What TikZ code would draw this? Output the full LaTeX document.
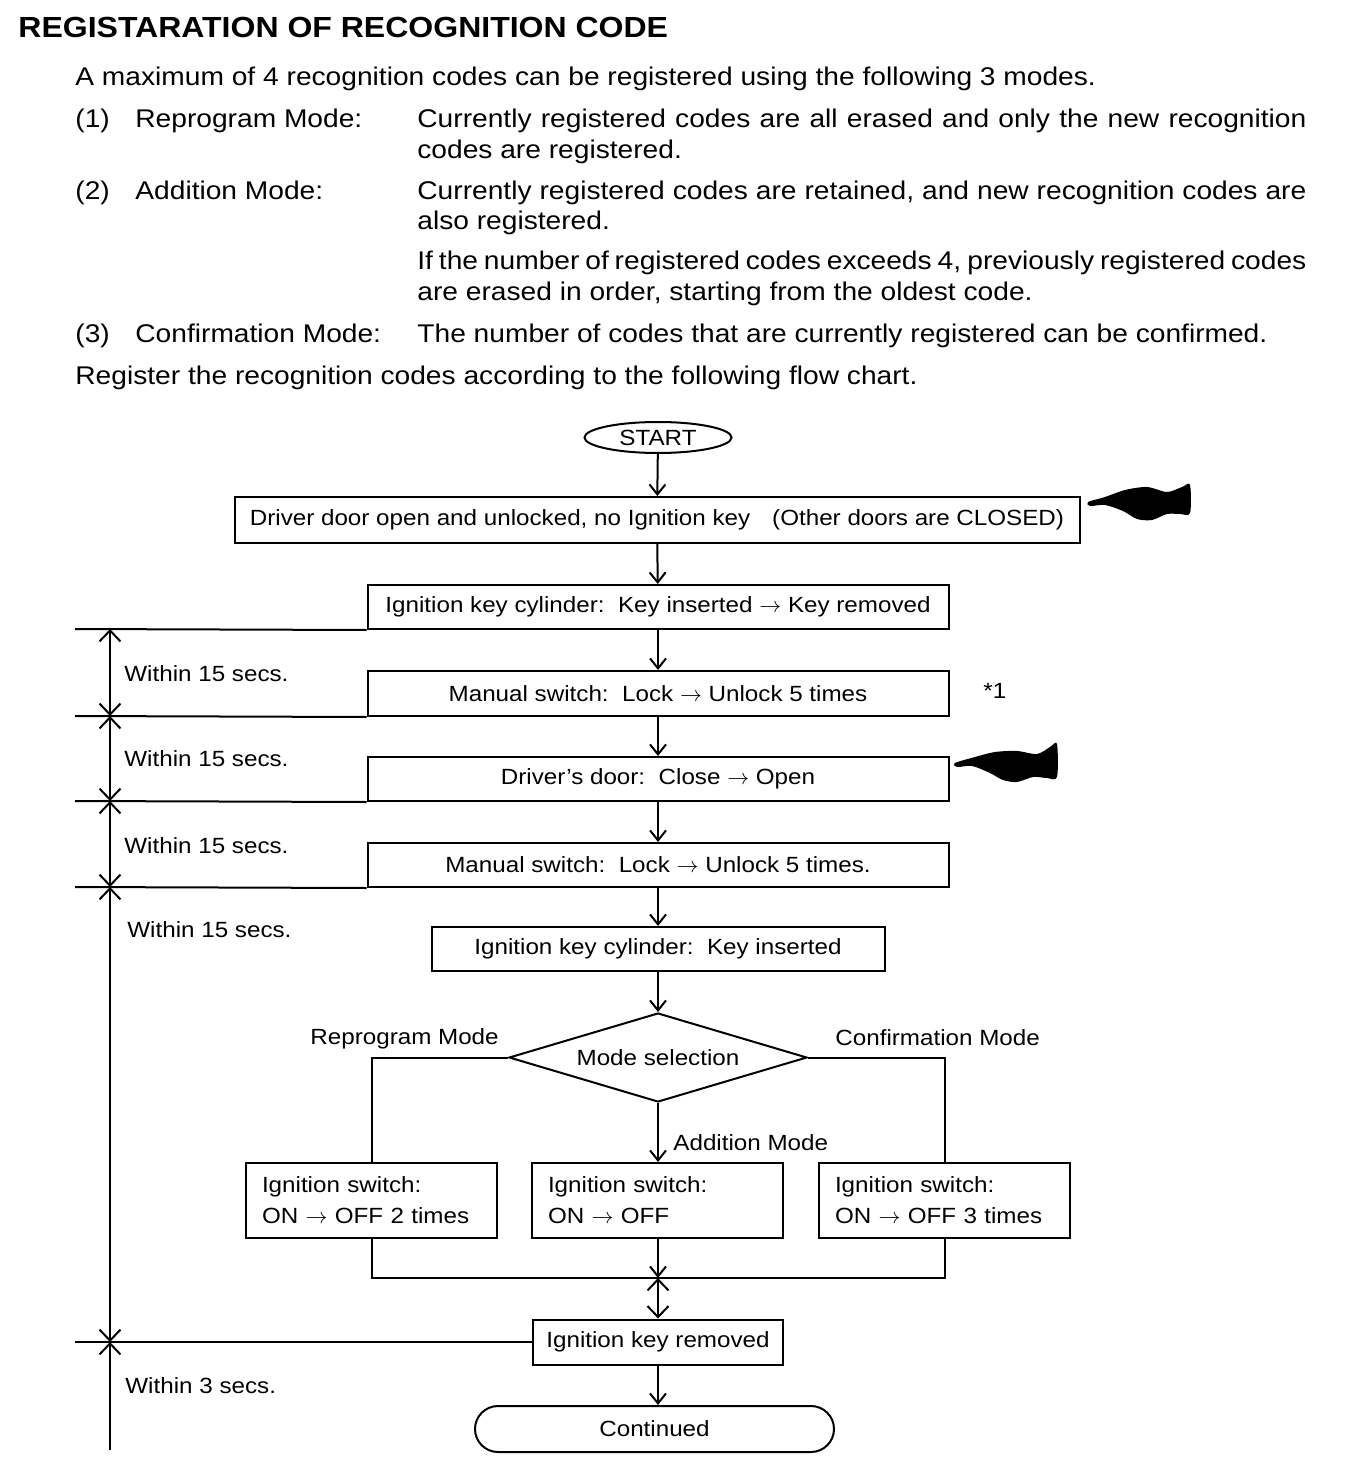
\documentclass[tikz,border=0pt]{standalone}
\usepackage{fontspec}
\setmainfont{Liberation Sans}[FakeStretch=1.1]
\usetikzlibrary{arrows.meta,shapes.geometric}
\begin{document}
\begin{tikzpicture}[x=0.5pt,y=-0.5pt,
  every node/.style={inner sep=0pt},
  bt/.style={anchor=base west, font=\fontsize{12.8}{15}\selectfont},
  ft/.style={font=\fontsize{11}{15.5}\selectfont},
  lbl/.style={anchor=base west, ft},
  ln/.style={line width=1pt},
  box/.style={draw, ln, ft},
  flow/.style={ln, -{Straight Barb[length=5pt,width=8pt]}},
  tick/.style={ln, {Straight Barb[length=5.5pt,width=10.5pt]}-{Straight Barb[length=5.5pt,width=10.5pt]}},
  tickstart/.style={ln, {Straight Barb[length=5.5pt,width=10.5pt]}-},
  twoline/.style={box, align=left, text width=109.5pt, inner xsep=8pt, minimum height=37.5pt}]
\useasboundingbox (0,0) rectangle (1344,1470);

% ---- header text ----
\node[anchor=base west, font=\bfseries\fontsize{14.55}{18}\selectfont] (title) at (18,38) {REGISTARATION OF RECOGNITION CODE};
\node[bt] (p0) at (75,86) {A maximum of 4 recognition codes can be registered using the following 3 modes.};
\node[bt] (n1) at (75,128) {(1)};
\node[bt] (m1) at (135,128) {Reprogram Mode:};
\node[bt] (d1a) at (417,128) {\makebox[444.5pt][s]{Currently registered codes are all erased and only the new recognition}};
\node[bt] (d1b) at (417,159) {codes are registered.};
\node[bt] (n2) at (75,200) {(2)};
\node[bt] (m2) at (135,200) {Addition Mode:};
\node[bt] (d2a) at (417,200) {\makebox[444.5pt][s]{Currently registered codes are retained, and new recognition codes are}};
\node[bt] (d2b) at (417,230) {also registered.};
\node[bt] (d2c) at (417,270) {\makebox[444.5pt][s]{If the number of registered codes exceeds 4, previously registered codes}};
\node[bt] (d2d) at (417,301) {are erased in order, starting from the oldest code.};
\node[bt] (n3) at (75,343) {(3)};
\node[bt] (m3) at (135,343) {Confirmation Mode:};
\node[bt] (d3) at (417,343) {The number of codes that are currently registered can be confirmed.};
\node[bt] (p4) at (75,385) {Register the recognition codes according to the following flow chart.};

% ---- flow chart nodes ----
\node[draw, ln, ft, ellipse, minimum width=73.5pt, minimum height=15.5pt] (start) at (658,437.5) {START};
\node[box, minimum width=422.5pt, minimum height=23pt] (b1) at (657,520) {Driver door open and unlocked, no Ignition key\quad(Other doors are CLOSED)};
\node[box, minimum width=290.5pt, minimum height=22pt] (b2) at (658,607) {Ignition key cylinder:\ \ Key inserted $\rightarrow$ Key removed};
\node[box, minimum width=290.5pt, minimum height=22.5pt] (b3) at (658,693.5) {Manual switch:\ \ Lock $\rightarrow$ Unlock 5 times};
\node[box, minimum width=290.5pt, minimum height=22pt] (b4) at (658,779) {Driver's door:\ \ Close $\rightarrow$ Open};
\node[box, minimum width=290.5pt, minimum height=22pt] (b5) at (658,865) {Manual switch:\ \ Lock $\rightarrow$ Unlock 5 times.};
\node[box, minimum width=226.5pt, minimum height=22pt] (b6) at (658,949) {Ignition key cylinder:\ \ Key inserted};
\node[draw, ln, ft, diamond, aspect=3.35, minimum width=149pt, minimum height=44.5pt] (dia) at (658,1057.5) {Mode selection};
\node[twoline] (b7) at (371.5,1200.5) {Ignition switch:\\ON $\rightarrow$ OFF 2 times};
\node[twoline] (b8) at (657.5,1200.5) {Ignition switch:\\ON $\rightarrow$ OFF};
\node[twoline] (b9) at (944.5,1200.5) {Ignition switch:\\ON $\rightarrow$ OFF 3 times};
\node[box, minimum width=125pt, minimum height=22.5pt] (b10) at (658,1342) {Ignition key removed};
\node[draw, ln, ft, rounded corners=11.5pt, minimum width=179.5pt, minimum height=23pt] (cont) at (654.5,1429) {Continued};

% ---- labels ----
\node[lbl] (l1) at (124,681) {Within 15 secs.};
\node[lbl] (l2) at (124,766) {Within 15 secs.};
\node[lbl] (l3) at (124,853) {Within 15 secs.};
\node[lbl] (l4) at (127,937) {Within 15 secs.};
\node[lbl] (l5) at (125,1393) {Within 3 secs.};
\node[lbl] (note) at (983,698) {*1};
\node[lbl] (lr) at (310,1044) {Reprogram Mode};
\node[lbl] (lc) at (835,1045) {Confirmation Mode};
\node[lbl] (la) at (673,1150) {Addition Mode};

% ---- connectors ----
\draw[flow] (start) -- (b1);
\draw[flow] (b1) -- (b2);
\draw[flow] (b2) -- (b3);
\draw[flow] (b3) -- (b4);
\draw[flow] (b4) -- (b5);
\draw[flow] (b5) -- (b6);
\draw[flow] (b6) -- (dia);
\draw[flow] (dia.south) -- (dia.south |- b8.north);
\draw[ln] (dia.west) -| (b7.north);
\draw[ln] (dia.east) -| (b9.north);
\coordinate (j) at (658,1278);
\draw[ln] (b7.south) |- (j) -| (b9.south);
\draw[flow] (b8.south -| j) -- (j);
\draw[tick] (j) -- (b10.north);
\draw[flow] (b10.south) -- (b10.south |- cont.north);

% ---- time line ----
\coordinate (t0) at (110,629);
\coordinate (t1) at (110,716);
\coordinate (t2) at (110,801);
\coordinate (t3) at (110,887);
\coordinate (t4) at (110,1342);
\coordinate (t5) at (110,1450);
\draw[tick] (t0) -- (t1);
\draw[tick] (t1) -- (t2);
\draw[tick] (t2) -- (t3);
\draw[tick] (t3) -- (t4);
\draw[tickstart] (t4) -- (t5);
\coordinate (h1) at (75,629);
\coordinate (h2) at (75,716);
\coordinate (h3) at (75,801);
\coordinate (h4) at (75,887);
\coordinate (h5) at (75,1342);
\draw[ln] (h1) -- (b2.south west);
\draw[ln] (h2) -- (b3.south west);
\draw[ln] (h3) -- (b4.south west);
\draw[ln] (h4) -- (b5.south west);
\draw[ln] (h5) -- (b10.west);

% ---- black marks ----
\fill plot[smooth cycle] coordinates {(1088,502) (1105,497) (1125,490) (1147,487) (1167,492) (1182,487) (1190,485) (1190,513) (1180,514) (1167,514) (1152,520) (1137,519) (1123,511) (1105,505) (1090,506)};
\fill plot[smooth cycle] coordinates {(955,763) (975,757) (995,752) (1017,751) (1037,754) (1050,747) (1057,744) (1057,777) (1047,778) (1033,777) (1017,782) (1003,780) (990,773) (972,766) (957,767)};
\end{tikzpicture}
\end{document}
